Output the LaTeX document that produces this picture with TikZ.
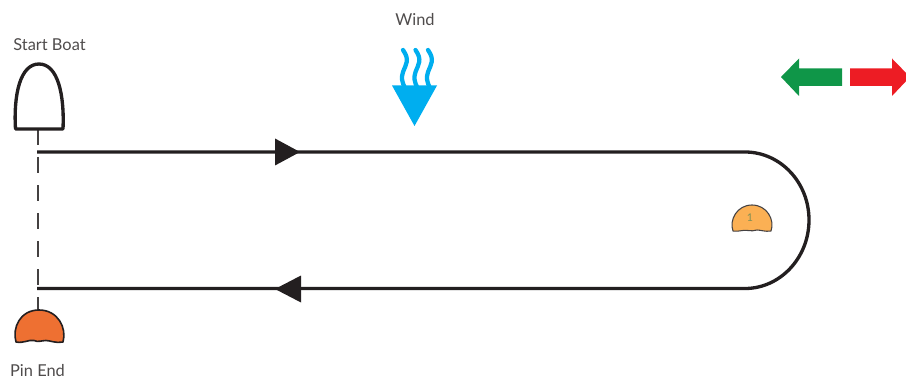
\documentclass[tikz,border=0pt]{standalone}
\usepackage{fontspec}
\setmainfont{Lato}
\definecolor{windblue}{HTML}{00AEEF}
\definecolor{goleft}{HTML}{0F9648}
\definecolor{goright}{HTML}{ED1C24}
\definecolor{pinorange}{HTML}{EE7032}
\definecolor{markorange}{HTML}{FBB054}
\definecolor{ink}{HTML}{231F20}
\definecolor{markone}{HTML}{7F8F55}
\tikzset{
 x=0.75pt,y=-0.75pt,
 lbl/.style={font=\fontsize{12.3}{14}\selectfont,text=ink!80,inner sep=0pt},
 course/.style={draw=ink,line width=2.5pt},
 startline/.style={draw=ink!85,line width=0.9pt,dash pattern=on 12pt off 9pt},
 headtip/.style={fill=ink,draw=none},
 squiggle/.style={draw=windblue,line width=3.2pt,line cap=round},
 windhead/.style={fill=windblue,draw=none},
}
\begin{document}
\begin{tikzpicture}
\useasboundingbox (0,0) rectangle (906,381);
% labels
\node[lbl] (startlabel) at (49.5,45) {Start Boat};
\node[lbl] (pinlabel) at (37.5,371) {Pin End};
\node[lbl] (windlabel) at (415,20) {Wind};
% named points
\coordinate (boatbase) at (38,129);
\coordinate (pintop) at (38,311);
\coordinate (lineA) at (37,152);
\coordinate (lineB) at (37,288.5);
\coordinate (turnT) at (745,152);
\coordinate (turnB) at (745,288.5);
\coordinate (turnR) at (809,220);
\coordinate (tipA) at (300,152);
\coordinate (tipB) at (275,289);
% start line
\draw[startline] (boatbase) -- (pintop);
% start boat
\draw[ink,line width=2.5pt,fill=white,line join=round]
  (15.5,129) .. controls (13.5,95) and (20,64) .. (39,64)
  .. controls (58,64) and (64.5,95) .. (63,129) -- cycle;
% pin
\draw[ink,line width=1.2pt,fill=pinorange,line join=round]
  (16,342) .. controls (12,328) and (20,310) .. (39,310)
  .. controls (58,310) and (67,328) .. (63,342)
  .. controls (56,343.5) and (50,340.5) .. (46,340.5)
  .. controls (42,340.5) and (38,342.5) .. (34,340.5)
  .. controls (28,339.5) and (24,343.5) .. (16,342) -- cycle;
% course
\draw[course] (lineA) -- (turnT)
  .. controls (780,152) and (809,182) .. (turnR)
  .. controls (809,258) and (780,288.5) .. (turnB) -- (lineB);
% course arrowheads
\fill[headtip] (tipA) -- (275,138.5) -- (275,165.5) -- cycle;
\fill[headtip] (tipB) -- (301,275.5) -- (301,302.5) -- cycle;
% mark 1
\draw[ink!85,line width=0.8pt,fill=markorange,line join=round]
  (733,231) .. controls (729,220) and (737,205) .. (752,205)
  .. controls (767,205) and (775,220) .. (771,231)
  .. controls (765,232) and (761,230) .. (757,230)
  .. controls (754,230) and (751,232) .. (748,230.5)
  .. controls (743,229.5) and (739,232) .. (733,231) -- cycle;
\node[font=\fontsize{8}{9}\selectfont,text=markone,inner sep=0pt] (markonelabel) at (750,218) {1};
% wind
\foreach \wx in {0,12.5,25}{
 \draw[squiggle,xshift=\wx*0.75pt]
  (403,50) .. controls (410,60) and (406,64) .. (403,72)
  .. controls (401,78) and (402,82) .. (405,88);
}
\fill[windhead] (392,85.5) -- (437,85.5) -- (414.5,126) -- cycle;
% direction arrows
\fill[goleft] (781,77) -- (799,58.5) -- (799,68.5) -- (842,68.5) -- (842,86) -- (799,86) -- (799,96) -- cycle;
\fill[goright] (850,68.5) -- (892,68.5) -- (892,58.5) -- (910,77) -- (892,96) -- (892,86) -- (850,86) -- cycle;
\end{tikzpicture}
\end{document}
